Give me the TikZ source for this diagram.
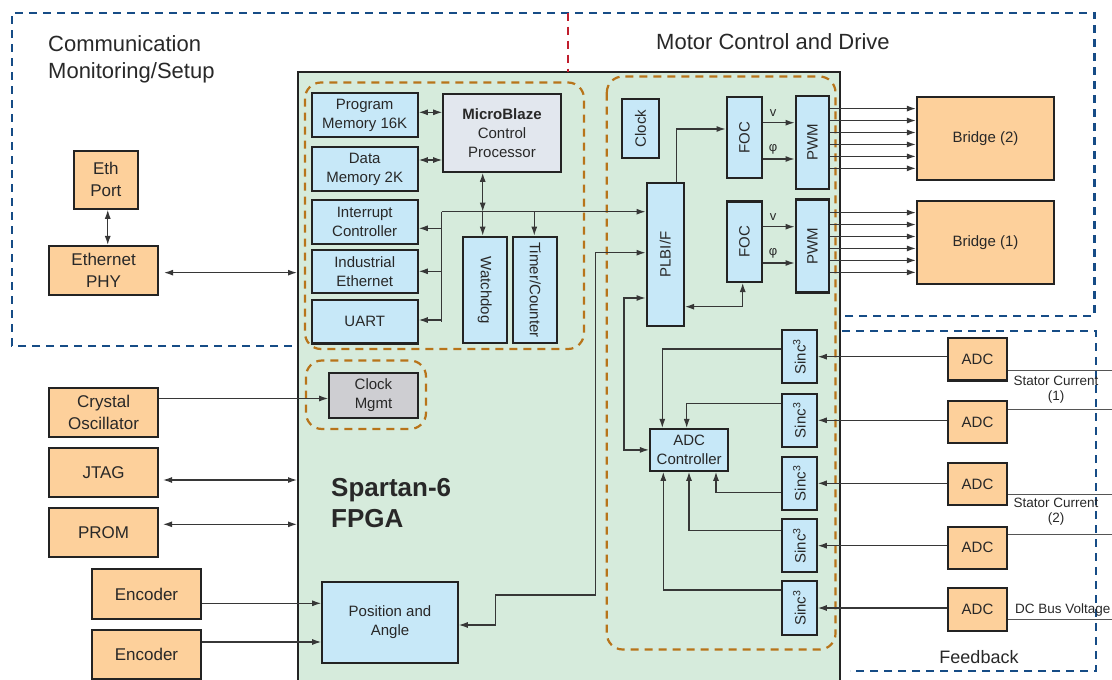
\documentclass[tikz,border=0pt]{standalone}
\usepackage{fontspec}
\setmainfont{Liberation Sans}
\usetikzlibrary{arrows.meta,calc}
\newcommand{\fsz}[2]{\fontsize{#1}{#2}\selectfont}
\definecolor{bluedash}{RGB}{22,76,134}
\definecolor{reddash}{RGB}{192,30,45}
\definecolor{orangedash}{RGB}{184,116,26}
\definecolor{fpgafill}{RGB}{214,235,220}
\definecolor{lightblue}{RGB}{199,232,248}
\definecolor{orangefill}{RGB}{253,208,155}
\definecolor{mbfill}{RGB}{226,231,238}
\definecolor{mgmtfill}{RGB}{206,206,210}
\definecolor{linecol}{RGB}{55,55,55}
\definecolor{boxline}{RGB}{35,35,35}
\definecolor{txt}{RGB}{40,40,40}
\begin{document}
\begin{tikzpicture}[x=1pt,y=-1pt,
  box/.style={draw=boxline, line width=2.2pt, inner sep=0pt, align=center, text=txt},
  bbox/.style={box, fill=lightblue, font=\fsz{15}{19}},
  obox/.style={box, fill=orangefill, font=\fsz{17}{22}},
  conn/.style={draw=linecol, line width=1.2pt},
  arr/.style={conn, -{Latex[length=9pt,width=6pt]}},
  darr/.style={conn, {Latex[length=9pt,width=6pt]}-{Latex[length=9pt,width=6pt]}},
  bluedashed/.style={draw=bluedash, line width=2.2pt, dash pattern=on 8pt off 6pt},
  orangedashed/.style={draw=orangedash, line width=2.2pt, dash pattern=on 8pt off 6pt, rounded corners=16pt},
  lbl/.style={text=txt, inner sep=0pt}
]
\useasboundingbox (0,0) rectangle (1112,680);

% FPGA body
\fill[fpgafill] (298,71.7) rectangle (840,680);
\draw[draw=boxline, line width=2pt] (298,680) -- (298,71.7) -- (840,71.7) -- (840,680);
\coordinate (fpgaL) at (297,0);

% region borders
\draw[bluedashed] (292,345.7) -- (12,345.7) -- (12,12.7) -- (1094.5,12.7) -- (1094.5,316) -- (842,316);
\draw[draw=reddash, line width=2pt, dash pattern=on 8pt off 6pt] (568,12.7) -- (568,71.7);
\draw[bluedashed] (842,331) -- (1096,331) -- (1096,671) -- (850,671);

% grouping regions
\draw[orangedashed] (305,82.5) rectangle (584,349);
\draw[orangedashed] (606.8,76.5) rectangle (835.5,649.5);
\draw[orangedashed] (306,360.5) rectangle (426,429);

% region labels
\node[lbl, anchor=base west, font=\fsz{22}{26}] (comm1) at (48,51.2) {Communication};
\node[lbl, anchor=base west, font=\fsz{22}{26}] (comm2) at (48,78.9) {Monitoring/Setup};
\node[lbl, anchor=base, font=\fsz{22}{26}] (motor) at (773,49.3) {Motor Control and Drive};
\node[lbl, anchor=base west, font=\bfseries\fsz{26}{31}] (sp1) at (331,496.7) {Spartan-6};
\node[lbl, anchor=base west, font=\bfseries\fsz{26}{31}] (sp2) at (331,527.7) {FPGA};
\node[lbl, anchor=base, font=\fsz{18}{22}] (fb) at (979,663.3) {Feedback};

% outside left blocks
\node[obox, minimum width=63.7pt, minimum height=58pt] (ethport) at (105.85,179.7) {Eth\\Port};
\node[obox, minimum width=108.7pt, minimum height=48.7pt] (ethphy) at (103.6,270.35) {Ethernet\\PHY};
\node[obox, minimum width=108.7pt, minimum height=49pt] (crystal) at (103.6,412.2) {Crystal\\Oscillator};
\node[obox, minimum width=108.7pt, minimum height=49pt] (jtag) at (103.6,472.2) {JTAG};
\node[obox, minimum width=108.7pt, minimum height=49.6pt] (prom) at (103.6,532.5) {PROM};
\node[obox, minimum width=109.5pt, minimum height=49.4pt] (enc1) at (146.5,594) {Encoder};
\node[obox, minimum width=109.5pt, minimum height=49pt] (enc2) at (146.5,654.5) {Encoder};

% processor group
\node[bbox, minimum width=106pt, minimum height=43.4pt] (progmem) at (364.7,115) {Program\\Memory 16K};
\node[bbox, minimum width=106pt, minimum height=43.4pt] (datamem) at (364.7,169) {Data\\Memory 2K};
\node[bbox, minimum width=106pt, minimum height=43.4pt] (intc) at (364.7,222) {Interrupt\\Controller};
\node[bbox, minimum width=106pt, minimum height=43.4pt] (indeth) at (364.7,271.3) {Industrial\\Ethernet};
\node[bbox, minimum width=106pt, minimum height=43.4pt] (uart) at (364.7,321.7) {UART};
\node[bbox, fill=mbfill, minimum width=117.4pt, minimum height=77.7pt] (mb) at (502,132.9) {\textbf{MicroBlaze}\\Control\\Processor};
\node[bbox, minimum width=44pt, minimum height=106.3pt] (watchdog) at (484.7,289.9) {\rotatebox{-90}{Watchdog}};
\node[bbox, minimum width=44pt, minimum height=106.3pt] (timer) at (535.3,289.9) {\rotatebox{-90}{Timer/Counter}};

% clock management
\node[bbox, fill=mgmtfill, minimum width=88.4pt, minimum height=44.4pt] (clockmgmt) at (373.5,395.5) {Clock\\Mgmt};
\node[bbox, minimum width=135.4pt, minimum height=81.6pt] (position) at (390,622.5) {Position and\\Angle};

% motor group
\node[bbox, minimum width=37.6pt, minimum height=58.4pt] (clock) at (640.5,128.5) {\rotatebox{90}{Clock}};
\node[bbox, minimum width=35.6pt, minimum height=80.4pt] (foc1) at (744.5,137.5) {\rotatebox{90}{FOC}};
\node[bbox, minimum width=33.6pt, minimum height=93pt] (pwm1) at (812.5,142.2) {\rotatebox{90}{PWM}};
\node[bbox, minimum width=35.6pt, minimum height=80.4pt] (foc2) at (744.5,241.7) {\rotatebox{90}{FOC}};
\node[bbox, minimum width=33.6pt, minimum height=93pt] (pwm2) at (812.5,246) {\rotatebox{90}{PWM}};
\node[bbox, minimum width=37.3pt, minimum height=142.4pt] (plb) at (665.3,254.5) {\rotatebox{90}{PLBI/F}};
\node[box, fill=orangefill, font=\fsz{15}{19}, minimum width=137pt, minimum height=83pt] (bridge2) at (985.5,138.5) {Bridge (2)};
\node[box, fill=orangefill, font=\fsz{15}{19}, minimum width=137pt, minimum height=83pt] (bridge1) at (985.5,242.5) {Bridge (1)};

% feedback group
\foreach \i/\y in {1/356.7, 2/420.3, 3/483.3, 4/545.7, 5/608}{
  \node[bbox, minimum width=34.4pt, minimum height=53.3pt] (sinc\i) at (799.5,\y) {\rotatebox{90}{Sinc\textsuperscript{3}}};
}
\foreach \i/\y in {1/359.3, 2/422.2, 3/483.9, 4/547.8, 5/609.5}{
  \node[box, fill=orangefill, font=\fsz{15}{19}, minimum width=58.4pt, minimum height=42.3pt] (adc\i) at (977.5,\y) {ADC};
}
\node[bbox, minimum width=78.3pt, minimum height=41.7pt] (adcc) at (689.2,449.9) {ADC\\Controller};

% feedback labels
\node[lbl, anchor=base, font=\fsz{13.5}{16}] (sc1a) at (1056,385) {Stator Current};
\node[lbl, font=\fsz{13.5}{16}] (sc1b) at (1056,396.7) {(1)};
\node[lbl, anchor=base, font=\fsz{13.5}{16}] (sc2a) at (1056,507.3) {Stator Current};
\node[lbl, font=\fsz{13.5}{16}] (sc2b) at (1056,519) {(2)};
\node[lbl, anchor=base west, font=\fsz{13.5}{16}] (dcbus) at (1015,613.3) {DC Bus Voltage};

% ---------- connectors ----------
\draw[darr] ([xshift=1.9pt]ethport.south) -- ([xshift=1.9pt]ethport.south |- ethphy.north);
\draw[darr, shorten <=5pt] ([yshift=-2.3pt]ethphy.east) -- ([yshift=-2.3pt]ethphy.east -| fpgaL);
\draw[arr] ([yshift=13.7pt]crystal.east) -- ([yshift=13.7pt]crystal.east -| clockmgmt.west);
\draw[darr, shorten <=4pt] ([yshift=-7.8pt]jtag.east) -- ([yshift=-7.8pt]jtag.east -| fpgaL);
\draw[darr, shorten <=4pt] ([yshift=8.2pt]prom.east) -- ([yshift=8.2pt]prom.east -| fpgaL);
\draw[arr] ([yshift=-9.3pt]enc1.east) -- ([yshift=-9.3pt]enc1.east -| position.west);
\draw[arr] ([yshift=12.5pt]enc2.east) -- ([yshift=12.5pt]enc2.east -| position.west);

% processor internals
\draw[darr] ([yshift=2.7pt]progmem.east) -- ([yshift=2.7pt]progmem.east -| mb.west);
\draw[darr] ([yshift=9pt]datamem.east) -- ([yshift=9pt]datamem.east -| mb.west);
\coordinate (busL) at (441.7,211.7);
\coordinate (wj) at (482.7,211.7);
\coordinate (tj) at (534.3,211.7);
\draw[arr] (busL) -- (busL -| plb.west);
\draw[conn] (busL) -- (busL |- uart.east);
\coordinate (ib) at ([yshift=-6.3pt]intc.east);
\draw[arr] (ib -| busL) -- (ib);
\draw[arr] (busL |- indeth.east) -- (indeth.east);
\coordinate (ub) at ([yshift=1.7pt]uart.east);
\draw[arr] (ub -| busL) -- (ub);
\draw[darr] (wj |- mb.south) -- (wj);
\draw[arr] (wj) -- (wj |- watchdog.north);
\draw[arr] (tj) -- (tj |- timer.north);

% motor control
\draw[arr] ([xshift=11.4pt]plb.north) |- ([yshift=8.5pt]foc1.west);
\draw[darr] ([yshift=-52.2pt]plb.east) -| ([xshift=-1.8pt]foc2.south);
\draw[arr] ([yshift=14.8pt]foc1.east) -- ([yshift=14.8pt]foc1.east -| pwm1.west);
\draw[arr] ([yshift=-21.5pt]foc1.east) -- ([yshift=-21.5pt]foc1.east -| pwm1.west);
\draw[arr] ([yshift=15pt]foc2.east) -- ([yshift=15pt]foc2.east -| pwm2.west);
\draw[arr] ([yshift=-21.3pt]foc2.east) -- ([yshift=-21.3pt]foc2.east -| pwm2.west);
\node[lbl, font=\fsz{13}{15}] (v1) at (773,113) {v};
\node[lbl, font=\fsz{13}{15}] (phi1) at (773,149) {φ};
\node[lbl, font=\fsz{13}{15}] (v2) at (773,217) {v};
\node[lbl, font=\fsz{13}{15}] (phi2) at (773,253) {φ};
\foreach \i in {0,...,5}{
  \coordinate (bt\i) at (0,{108.6+11.95*\i});
  \draw[arr] (pwm1.east |- bt\i) -- (bridge2.west |- bt\i);
  \coordinate (bb\i) at (0,{212.6+11.95*\i});
  \draw[arr] (pwm2.east |- bb\i) -- (bridge1.west |- bb\i);
}

% position and ADC controller to PLB
\coordinate (pa1) at (495.7,595);
\coordinate (pa2) at (595.5,595);
\draw[darr] ([yshift=-2.5pt]position.east) -| (pa1) -- (pa2) |- ([yshift=1.8pt]plb.west);
\coordinate (pj) at (624,449.9);
\draw[darr] ([yshift=-43.5pt]plb.west) -| (pj) -- (adcc.west);

% ADC to Sinc
\foreach \i in {1,...,5}{
  \draw[arr] (adc\i.west |- sinc\i.east) -- (sinc\i.east);
}
% Sinc to ADC controller
\coordinate (c1) at (662.3,0);
\coordinate (c2) at (686.7,0);
\coordinate (c3) at (716,0);
\coordinate (c4) at (689,0);
\coordinate (c5) at (663.3,0);
\draw[arr] ([yshift=7.7pt]sinc1.west) -| (c1 |- adcc.north);
\draw[arr] ([yshift=16.6pt]sinc2.west) -| (c2 |- adcc.north);
\draw[arr] ([yshift=-9.4pt]sinc3.west) -| (c3 |- adcc.south);
\draw[arr] ([yshift=15.4pt]sinc4.west) -| (c4 |- adcc.south);
\draw[arr] ([yshift=18pt]sinc5.west) -| (c5 |- adcc.south);

% ADC inputs from outside
\coordinate (e1) at (1112,370.7);
\coordinate (e2) at (1112,409.3);
\coordinate (e3) at (1112,494.3);
\coordinate (e4) at (1112,534.7);
\coordinate (e5) at (1112,619.3);
\foreach \i in {1,...,5}{
  \draw[conn, draw=linecol!85] (e\i -| adc\i.east) -- (e\i);
}
\end{tikzpicture}
\end{document}
